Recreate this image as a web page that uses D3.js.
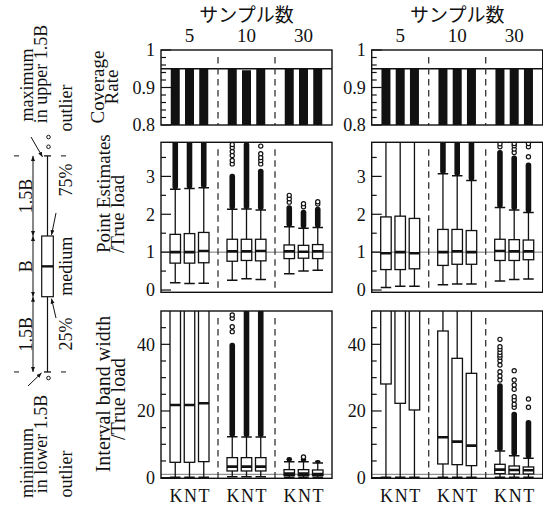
<!DOCTYPE html>
<html>
<head>
<meta charset="utf-8">
<script src="https://cdn.jsdelivr.net/npm/d3@7"></script>
<style>
  body { margin: 0; background: #fff; }
  svg { display: block; }
  text { font-family: "Liberation Serif", "Times New Roman", serif; fill: #111; }
  .jp { font-family: "Noto Sans CJK JP", sans-serif; }
</style>
</head>
<body>
<svg width="543" height="506"></svg>
<script>
// sample sizes and methods
var groups = ["5", "10", "30"];
var methods = ["K", "N", "T"];

// coverage rate, order: 5K 5N 5T 10K 10N 10T 30K 30N 30T
var coverageLeft  = [0.951, 0.951, 0.951, 0.951, 0.946, 0.951, 0.951, 0.951, 0.951];
var coverageRight = [0.951, 0.951, 0.951, 0.951, 0.951, 0.951, 0.951, 0.951, 0.951];
var nominal = 0.95;

// box stats: [lower whisker, q1, median, q3, upper whisker]
var pointLeft = [
  [0.19, 0.71, 1.00, 1.47, 2.66], [0.17, 0.71, 1.00, 1.49, 2.68], [0.18, 0.72, 1.03, 1.52, 2.70],
  [0.26, 0.76, 1.02, 1.34, 2.13], [0.30, 0.78, 1.02, 1.34, 2.14], [0.28, 0.77, 1.03, 1.34, 2.11],
  [0.43, 0.83, 1.02, 1.19, 1.67], [0.50, 0.84, 1.01, 1.18, 1.63], [0.52, 0.83, 1.02, 1.20, 1.65]
];
var pointRight = [
  [0.07, 0.54, 0.97, 1.93, 4.50], [0.10, 0.54, 1.00, 1.95, 4.50], [0.10, 0.56, 0.97, 1.89, 4.50],
  [0.14, 0.65, 1.00, 1.60, 3.07], [0.16, 0.68, 1.02, 1.60, 3.02], [0.16, 0.68, 1.00, 1.57, 2.89],
  [0.24, 0.78, 1.03, 1.34, 2.18], [0.28, 0.78, 1.02, 1.33, 2.11], [0.29, 0.80, 1.02, 1.32, 2.05]
];
var widthLeft = [
  [0.1, 4.6, 21.8, 60, 80], [0.1, 4.6, 21.8, 60, 80], [0.1, 4.8, 22.3, 60, 80],
  [0.3, 2.0, 3.3, 6.0, 12.3], [0.3, 2.0, 3.3, 6.0, 12.2], [0.3, 2.0, 3.3, 6.0, 12.2],
  [0.1, 0.6, 1.2, 2.4, 4.8], [0.1, 0.6, 1.2, 2.4, 4.8], [0.1, 0.6, 1.1, 2.3, 4.4]
];
var widthRight = [
  [0.1, 28.1, 60, 80, 90], [0.1, 22.3, 60, 80, 90], [0.1, 20.3, 60, 80, 90],
  [0.1, 4.1, 12.1, 44.0, 60], [0.1, 3.9, 10.8, 35.8, 60], [0.1, 3.6, 9.6, 31.3, 60],
  [0.1, 1.2, 2.4, 4.0, 8.0], [0.1, 1.1, 2.3, 3.5, 6.6], [0.1, 1.1, 2.2, 3.2, 5.8]
];

// top of the solid run of outliers (null = none)
var pointLeftDense  = [4.0, 4.0, 4.0, 3.07, 3.9, 3.2, 2.24, 2.12, 2.2];
var pointRightDense = [null, null, null, 4.0, 4.0, 4.0, 3.7, 3.55, 3.37];
var widthLeftDense  = [null, null, null, 40.5, 50.5, 50.5, 6.2, 6.0, 5.3];
var widthRightDense = [null, null, null, null, null, null, 28.3, 19.8, 17.3];

// single outliers drawn as circles
var pointLeftOut  = [[], [], [], [3.33, 3.42, 3.55, 3.66, 3.76, 3.84], [], [3.33, 3.42, 3.5, 3.6, 3.8],
                     [2.32, 2.41, 2.5], [2.2, 2.28], [2.27, 2.33]];
var pointRightOut = [[], [], [], [], [], [], [3.78, 3.86], [3.63, 3.72, 3.81, 3.87], [3.52, 3.78, 3.87]];
var widthLeftOut  = [[], [], [], [43.8, 45.3, 47.8, 48.8], [], [], [], [6.2], []];
var widthRightOut = [[], [], [], [], [], [],
                     [29.3, 30.5, 31.8, 33.8, 35.1, 36.1, 36.8, 37.6, 38.5, 39.3, 41.5],
                     [21.1, 22.0, 23.3, 24.3, 26.5, 27.8, 29.3, 32.1],
                     [21.1, 23.6]];

// axis ticks
var covTicks = [0.8, 0.9, 1], covMinor = [0.82, 0.84, 0.86, 0.88, 0.92, 0.94, 0.96, 0.98];
var ptTicks = [0, 1, 2, 3], ptMinor = [0.5, 1.5, 2.5, 3.5];
var wTicks = [0, 20, 40], wMinor = [5, 10, 15, 25, 30, 35, 45];

// key diagram, in units of B (box height)
var keyStats = [-1.24, 0, 0.5, 1, 2.32];
var keyOutHigh = [2.47, 2.63];
var keyOutLow = [-1.34];

var svg = d3.select("svg");
var panelW = 171;
var panelX = [161, 371.7];
var rows = [
  {top: 50, bottom: 125, domain: [0.8, 1.0]},
  {top: 142.3, bottom: 292.3, domain: [-0.06, 3.9]},
  {top: 311, bottom: 478.3, domain: [-0.2, 50]}
];
var boxW = 10.5, barW = 9;

var defs = svg.append("defs");
defs.append("marker").attr("id", "ah").attr("viewBox", "0 0 10 10")
  .attr("refX", 10).attr("refY", 5).attr("markerWidth", 5).attr("markerHeight", 5)
  .attr("orient", "auto-start-reverse")
  .append("path").attr("d", "M0,1 L10,5 L0,9 z").attr("fill", "#111");

function xScaleFor(p) {
  return d3.scaleLinear().domain([0, 12]).range([panelX[p], panelX[p] + panelW]);
}
function pos(i) { return 1 + Math.floor(i / 3) * 4 + (i % 3); }

function drawFrame(g, x, y, row, ticks, minor, fmt, refVal, refColor, refWidth) {
  var x0 = x.range()[0], x1 = x.range()[1];
  // reference line
  g.append("line").attr("x1", x0).attr("x2", x1)
    .attr("y1", y(refVal)).attr("y2", y(refVal))
    .attr("stroke", refColor).attr("stroke-width", refWidth);
  // separators between sample sizes
  [4, 8].forEach(function (p) {
    g.append("line").attr("x1", x(p)).attr("x2", x(p))
      .attr("y1", row.top + 7).attr("y2", row.bottom)
      .attr("stroke", "#333").attr("stroke-width", 1.3)
      .attr("stroke-dasharray", "6.5,4.5");
  });
  // inward ticks
  g.selectAll(".maj").data(ticks).enter().append("line")
    .attr("x1", x0).attr("x2", x0 + 10).attr("y1", d => y(d)).attr("y2", d => y(d))
    .attr("stroke", "#111").attr("stroke-width", 1.2);
  g.selectAll(".min").data(minor).enter().append("line")
    .attr("x1", x0).attr("x2", x0 + 5).attr("y1", d => y(d)).attr("y2", d => y(d))
    .attr("stroke", "#111").attr("stroke-width", 1.2);
  g.selectAll(".tl").data(ticks).enter().append("text")
    .attr("x", x0 - 6).attr("y", d => y(d)).attr("dy", "0.35em")
    .attr("text-anchor", "end").style("font-size", "18px")
    .text(fmt);
}

function drawBoxes(g, x, y, stats, dense, outs, clipId) {
  var c = g.append("g").attr("clip-path", "url(#" + clipId + ")");
  stats.forEach(function (s, i) {
    var cx = x(pos(i));
    // whisker
    c.append("line").attr("x1", cx).attr("x2", cx).attr("y1", y(s[0])).attr("y2", y(s[4]))
      .attr("stroke", "#111").attr("stroke-width", 1.3);
    [s[0], s[4]].forEach(function (v) {
      c.append("line").attr("x1", cx - boxW / 2).attr("x2", cx + boxW / 2)
        .attr("y1", y(v)).attr("y2", y(v)).attr("stroke", "#111").attr("stroke-width", 1.5);
    });
    // solid run of outliers
    if (dense[i] != null) {
      c.append("rect").attr("x", cx - 2.8).attr("width", 5.6)
        .attr("y", y(dense[i])).attr("height", y(s[4]) - y(dense[i]))
        .attr("rx", 2.5).attr("fill", "#111");
    }
    c.selectAll(".o" + i).data(outs[i]).enter().append("circle")
      .attr("cx", cx).attr("cy", d => y(d)).attr("r", 2.1)
      .attr("fill", "#fff").attr("stroke", "#111").attr("stroke-width", 1.2);
    // box
    c.append("rect").attr("x", cx - boxW / 2).attr("width", boxW)
      .attr("y", y(s[3])).attr("height", y(s[1]) - y(s[3]))
      .attr("fill", "#fff").attr("stroke", "#111").attr("stroke-width", 1.3);
    c.append("line").attr("x1", cx - boxW / 2).attr("x2", cx + boxW / 2)
      .attr("y1", y(s[2])).attr("y2", y(s[2])).attr("stroke", "#111").attr("stroke-width", 2.6);
  });
}

[0, 1].forEach(function (p) {
  var x = xScaleFor(p);
  var g = svg.append("g");

  // clip paths for each row
  rows.forEach(function (r, ri) {
    defs.append("clipPath").attr("id", "c" + p + ri).append("rect")
      .attr("x", x.range()[0]).attr("y", r.top).attr("width", panelW).attr("height", r.bottom - r.top);
  });

  // header
  g.append("text").attr("class", "jp").attr("x", x(6)).attr("y", 22)
    .attr("text-anchor", "middle").style("font-size", "19px").text("サンプル数");
  g.selectAll(".grp").data(groups).enter().append("text")
    .attr("x", (d, i) => x(2 + i * 4)).attr("y", 42)
    .attr("text-anchor", "middle").style("font-size", "19px").text(d => d);

  // coverage rate
  var r0 = rows[0];
  var y0 = d3.scaleLinear().domain(r0.domain).range([r0.bottom, r0.top]);
  var cov = p == 0 ? coverageLeft : coverageRight;
  g.append("g").attr("clip-path", "url(#c" + p + "0)")
    .selectAll("rect").data(cov).enter().append("rect")
    .attr("x", (d, i) => x(pos(i)) - barW / 2).attr("width", barW)
    .attr("y", d => y0(d)).attr("height", d => y0(0.8) - y0(d))
    .attr("fill", "#111");
  drawFrame(g, x, y0, r0, covTicks, covMinor, d => d, nominal, "#111", 1.6);

  // point estimates
  var r1 = rows[1];
  var y1 = d3.scaleLinear().domain(r1.domain).range([r1.bottom, r1.top]);
  drawFrame(g, x, y1, r1, ptTicks, ptMinor, d => d, 1, "#777", 1);
  drawBoxes(g, x, y1, p == 0 ? pointLeft : pointRight,
    p == 0 ? pointLeftDense : pointRightDense, p == 0 ? pointLeftOut : pointRightOut, "c" + p + "1");

  // interval width
  var r2 = rows[2];
  var y2 = d3.scaleLinear().domain(r2.domain).range([r2.bottom, r2.top]);
  drawFrame(g, x, y2, r2, wTicks, wMinor, d => d, 1, "#777", 1);
  drawBoxes(g, x, y2, p == 0 ? widthLeft : widthRight,
    p == 0 ? widthLeftDense : widthRightDense, p == 0 ? widthLeftOut : widthRightOut, "c" + p + "2");

  // frames
  rows.forEach(function (r) {
    g.append("rect").attr("x", x.range()[0]).attr("y", r.top)
      .attr("width", panelW).attr("height", r.bottom - r.top)
      .attr("fill", "none").attr("stroke", "#111").attr("stroke-width", 1.4);
  });

  // method labels
  g.selectAll(".knt").data(groups).enter().append("text")
    .attr("x", (d, i) => x(2 + i * 4) + 0.8).attr("y", 502)
    .attr("text-anchor", "middle").style("font-size", "18px")
    .style("letter-spacing", "1.6px")
    .text(methods.join(""));
});

// y axis titles (rotated)
function vtext(x, y, s, anchor, size) {
  svg.append("text").attr("transform", "translate(" + x + "," + y + ") rotate(-90)")
    .attr("text-anchor", anchor || "middle").style("font-size", (size || 19) + "px").text(s);
}
vtext(104, 87, "Coverage");
vtext(118, 87, "Rate");
vtext(110, 253, "Point Estimates", "start");
vtext(124, 253, "/True load", "start");
vtext(110, 394, "Interval band width", "middle", 20);
vtext(125, 399, "/True load", "middle", 20);

// key diagram on the left
var ky = d3.scaleLinear().domain([0, 1]).range([296.7, 236]);
var kx = 47.5, kw = 11.6, dimX = 33;
var key = svg.append("g");
key.append("line").attr("x1", kx).attr("x2", kx).attr("y1", ky(keyStats[0])).attr("y2", ky(keyStats[4]))
  .attr("stroke", "#111").attr("stroke-width", 1.2);
[keyStats[0], keyStats[4]].forEach(function (v) {
  key.append("line").attr("x1", kx - 3.5).attr("x2", kx + 3.5).attr("y1", ky(v)).attr("y2", ky(v))
    .attr("stroke", "#111").attr("stroke-width", 1.3);
  key.append("line").attr("x1", 14).attr("x2", 66).attr("y1", ky(v)).attr("y2", ky(v))
    .attr("stroke", "#111").attr("stroke-width", 1).attr("stroke-dasharray", "5,42");
});
key.append("rect").attr("x", kx - kw / 2).attr("width", kw)
  .attr("y", ky(keyStats[3])).attr("height", ky(keyStats[1]) - ky(keyStats[3]))
  .attr("fill", "#fff").attr("stroke", "#111").attr("stroke-width", 1.2);
key.append("line").attr("x1", kx - kw / 2).attr("x2", kx + kw / 2)
  .attr("y1", ky(keyStats[2])).attr("y2", ky(keyStats[2])).attr("stroke", "#111").attr("stroke-width", 2.4);
key.selectAll(".ko").data(keyOutHigh.concat(keyOutLow)).enter().append("circle")
  .attr("cx", kx + 1).attr("cy", d => ky(d)).attr("r", 1.8)
  .attr("fill", "none").attr("stroke", "#111").attr("stroke-width", 1);
// dimension arrows
[[keyStats[4], keyStats[3]], [keyStats[3], keyStats[1]], [keyStats[1], keyStats[0]]].forEach(function (s) {
  key.append("line").attr("x1", dimX).attr("x2", dimX).attr("y1", ky(s[0])).attr("y2", ky(s[1]))
    .attr("stroke", "#111").attr("stroke-width", 1)
    .attr("marker-start", "url(#ah)").attr("marker-end", "url(#ah)");
});
// leaders
[[31, 137, kx - 5, ky(keyStats[4]) + 1], [28, 386, kx - 6, ky(keyStats[0]) + 1],
 [56, 213, kx + 4, ky(keyStats[3]) - 1], [56, 318, kx + 4, ky(keyStats[1]) + 2]].forEach(function (l) {
  key.append("line").attr("x1", l[0]).attr("y1", l[1]).attr("x2", l[2]).attr("y2", l[3])
    .attr("stroke", "#111").attr("stroke-width", 1).attr("marker-end", "url(#ah)");
});
function ktext(x, y, s) {
  key.append("text").attr("transform", "translate(" + x + "," + y + ") rotate(-90)")
    .attr("text-anchor", "middle").style("font-size", "18px").text(s);
}
ktext(32, (ky(keyStats[4]) + ky(keyStats[3])) / 2, "1.5B");
ktext(32, ky(keyStats[2]), "B");
ktext(32, (ky(keyStats[1]) + ky(keyStats[0])) / 2, "1.5B");
ktext(72, 180, "75%");
ktext(72, ky(keyStats[2]), "medium");
ktext(72, 334, "25%");
ktext(33, 85, "maximum");
ktext(47, 74, "in upper 1.5B");
ktext(72, 108, "outlier");
ktext(33, 463, "minimum");
ktext(47, 444, "in lower 1.5B");
ktext(72, 474, "outlier");
</script>
</body>
</html>
